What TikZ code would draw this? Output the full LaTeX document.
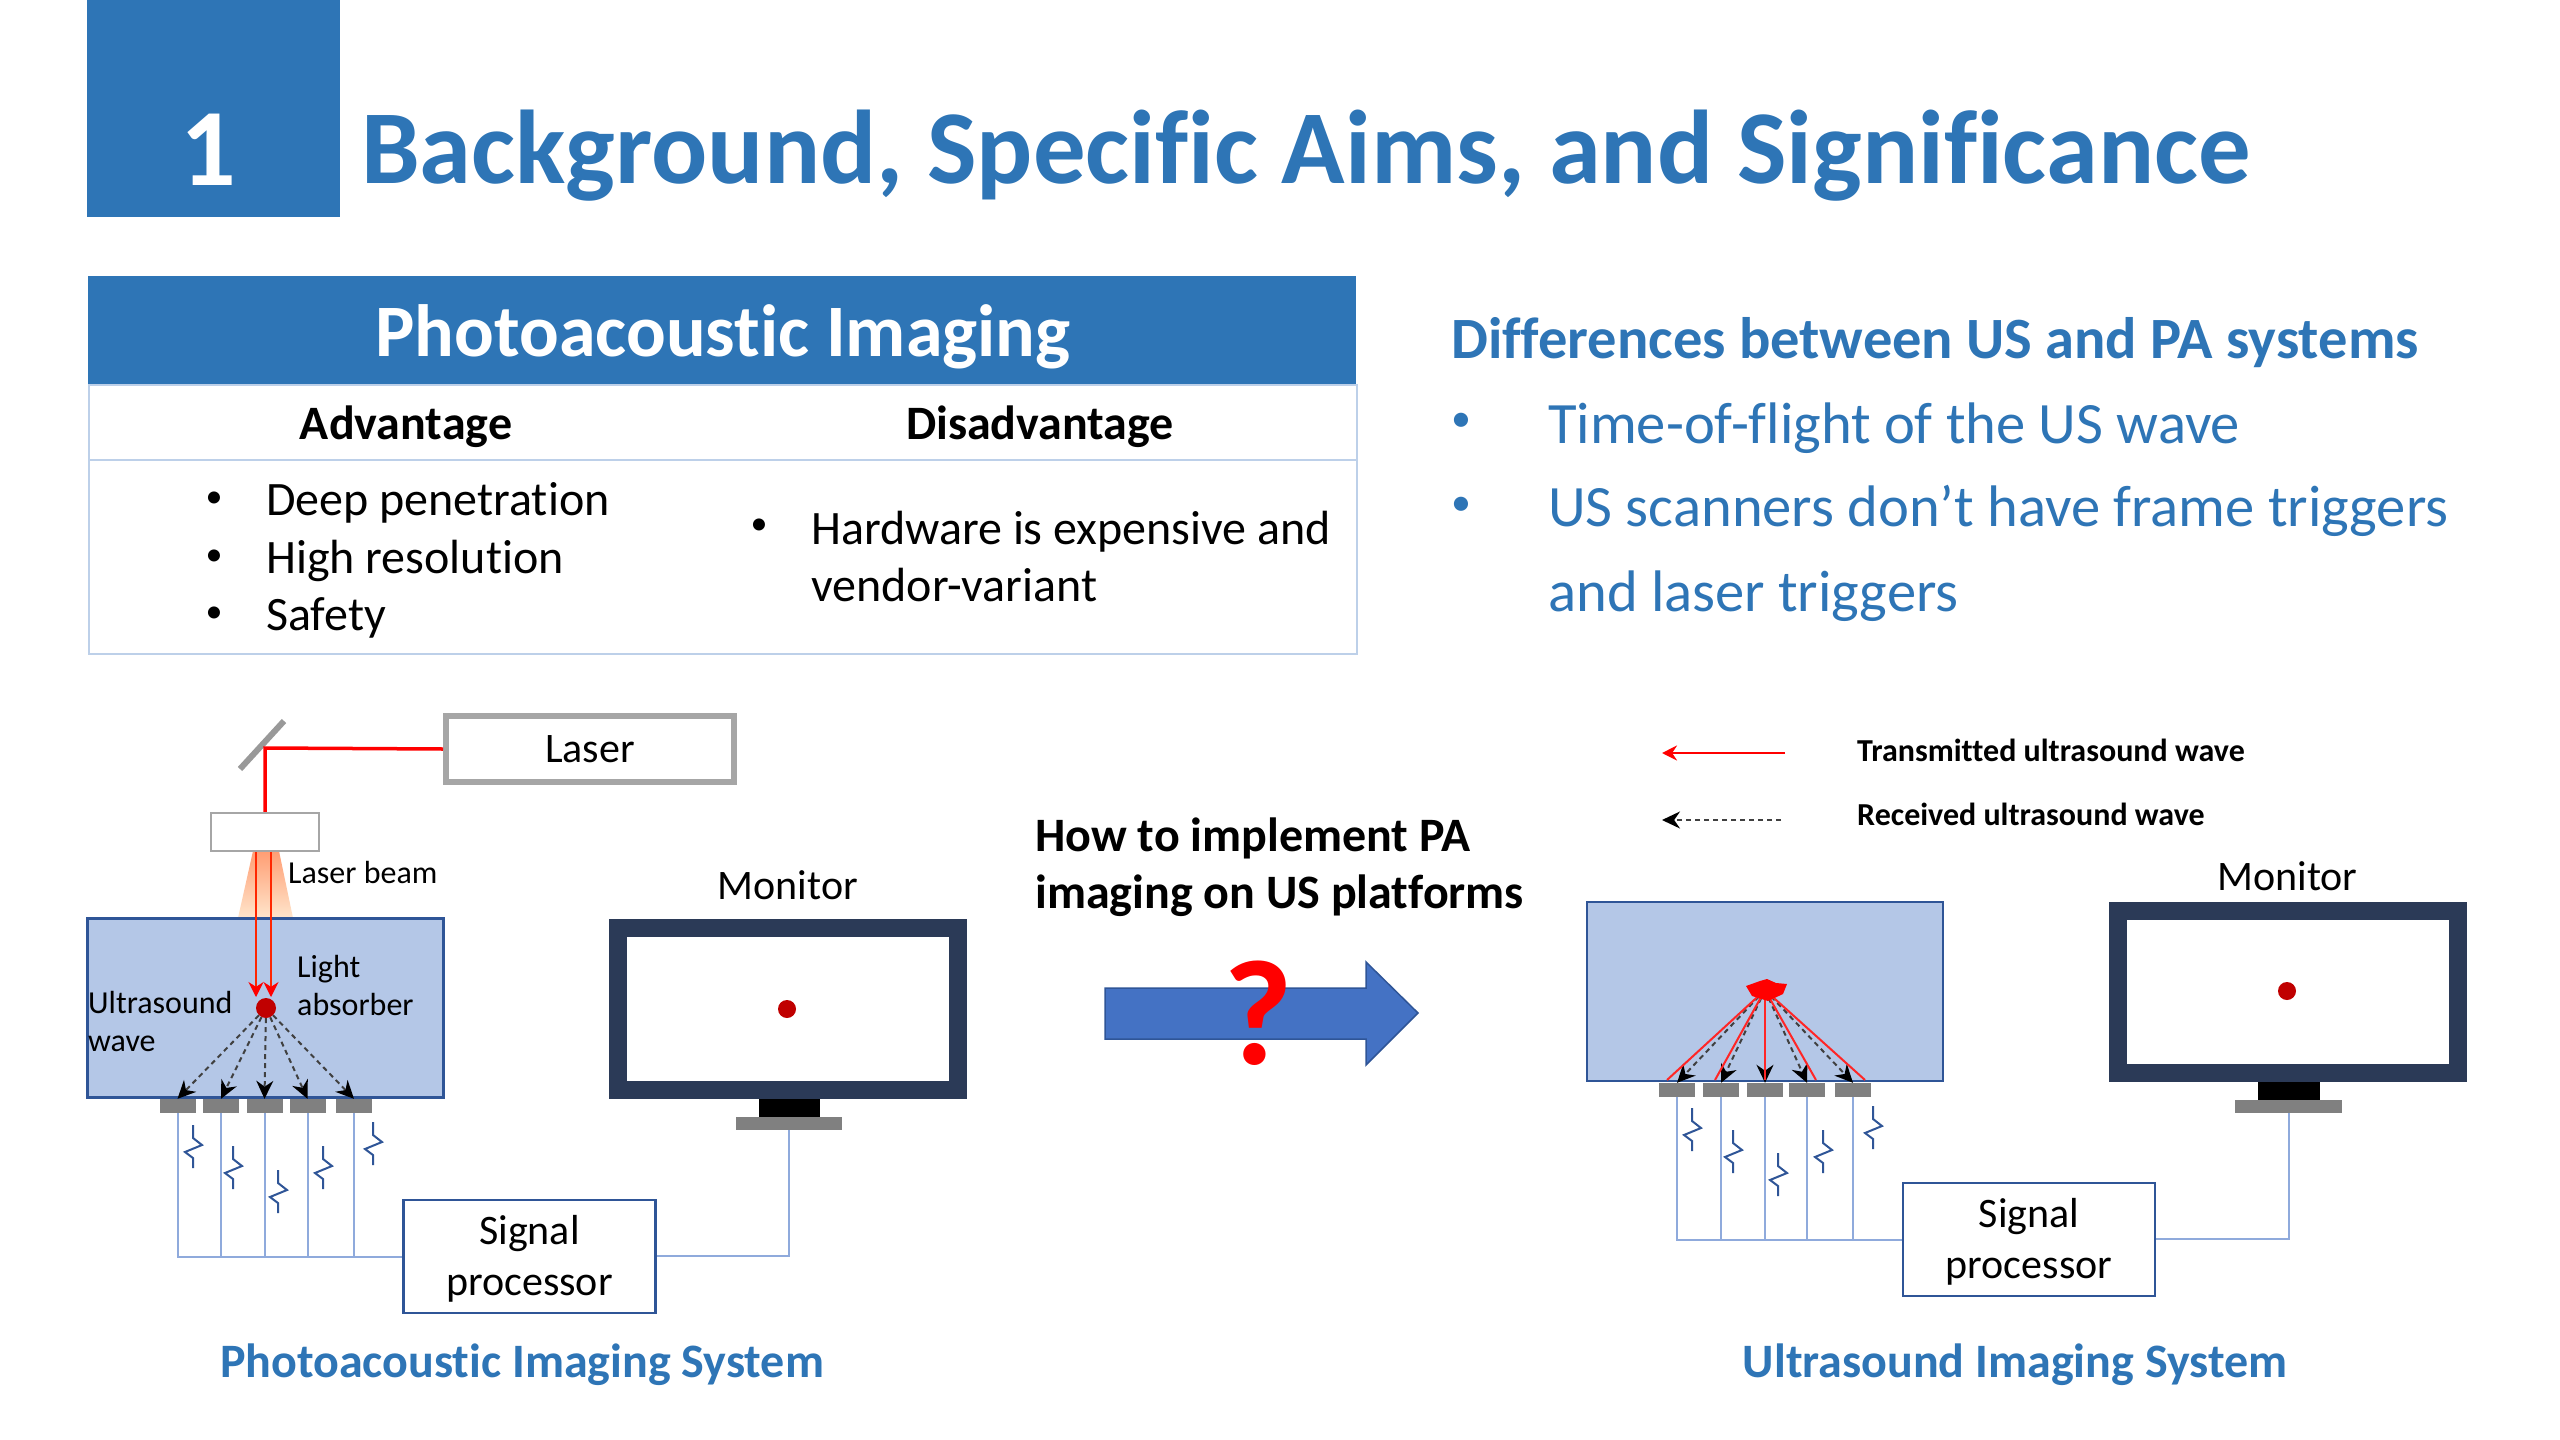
\documentclass[tikz,border=0pt]{standalone}
\usepackage{fontspec}
\setmainfont{Carlito}[Ligatures=NoCommon]
\usepackage{xcolor}
\usetikzlibrary{arrows.meta,positioning,calc}

\definecolor{headblue}{HTML}{2E75B6}
\definecolor{tissuefill}{HTML}{B4C7E7}
\definecolor{tissueline}{HTML}{2F5597}
\definecolor{wirelight}{HTML}{8FAADC}
\definecolor{gridline}{HTML}{BDD0E9}
\definecolor{screenline}{HTML}{2B3A57}
\definecolor{arrowfill}{HTML}{4472C4}
\definecolor{dotred}{HTML}{C00000}

\begin{document}
\begin{tikzpicture}[
  x=1pt, y=-1pt,
  every node/.style={inner sep=0pt, text=black},
  lbl/.style={font=\fontsize{42}{51}\selectfont, align=center},
  small/.style={font=\fontsize{32}{38}\selectfont, align=left},
  cell/.style={font=\fontsize{48}{57}\selectfont, align=left, anchor=base west},
  cell head/.style={font=\fontsize{48}{57}\selectfont\bfseries},
  bullet/.style={font=\fontsize{34}{36}\selectfont},
  blue text/.style={font=\fontsize{58.6}{85}\selectfont, text=headblue, align=left, anchor=base west},
  blue bullet/.style={font=\fontsize{40}{42}\selectfont, text=headblue},
  caption/.style={font=\fontsize{48}{56}\selectfont\bfseries, text=headblue},
  legend/.style={font=\fontsize{32}{38}\selectfont\bfseries, anchor=west},
  tissue/.style={draw=tissueline, line width=2.5pt, fill=tissuefill, minimum width=356pt, minimum height=179pt},
  element/.style={fill=black!50, minimum width=36pt, minimum height=14pt},
  screen/.style={draw=screenline, line width=18pt, fill=white, minimum width=340pt, minimum height=162pt},
  proc/.style={draw=tissueline, line width=2.5pt, fill=white, minimum width=252pt, minimum height=113pt, lbl},
  wire/.style={draw=wirelight, line width=2pt},
  wave/.style={dash pattern=on 5pt off 4pt, line width=2pt, black!75, -{Stealth[length=18pt,width=17pt,black]}},
  sent/.style={red!85!white, line width=2pt},
  pics/wiggle/.style={code={\draw[tissueline, line width=2pt] (0,0) -- (0,13) -- (9,20) -- (-8,27) -- (0,33) -- (0,43);}}
]
\path[fill=white, use as bounding box] (0,0) rectangle (2560,1440);

% Title
\node[fill=headblue, minimum width=253pt, minimum height=217pt, anchor=north west] (badge) at (87,0) {};
\node[font=\fontsize{110}{120}\selectfont\bfseries, text=white] (badgenum) at (208,150) {1};
\node[font=\fontsize{104.8}{120}\selectfont\bfseries, text=headblue, anchor=base west] (title) at (361,183) {Background, Specific Aims, and Significance};

% Table
\node[fill=headblue, minimum width=1268pt, minimum height=108pt, anchor=north west] (tablehead) at (88,276) {};
\node[font=\fontsize{74}{88}\selectfont\bfseries, text=white] (tabletitle) at (723,337) {Photoacoustic Imaging};
\node[draw=gridline, line width=2pt, minimum width=1268pt, minimum height=269pt, anchor=north west] (tablebody) at (88,384) {};
\draw[draw=gridline, line width=2pt] (tablebody.west |- 0,460) coordinate (rowl) -- (tablebody.east |- 0,460) coordinate (rowr);
\node[cell head] (advhead) at (406,427) {Advantage};
\node[cell head] (dishead) at (1040,427) {Disadvantage};
\foreach \name/\ypos/\txt in {deep/503/Deep penetration, res/561/High resolution, safe/618/Safety}{
  \node[bullet] (\name bul) at (214,\ypos-3) {•};
  \node[cell, anchor=west] (\name) at (266,\ypos) {\txt};
}
\node[bullet] (hwbul) at (759,527) {•};
\node[cell] (hw) at (811,601) {Hardware is expensive and\\vendor-variant};

% Differences
\node[font=\fontsize{58.5}{68}\selectfont\bfseries, text=headblue, anchor=base west] (diffhead) at (1451,358) {Differences between US and PA systems};
\node[blue bullet] (tofbul) at (1461,422) {•};
\node[blue text] (tof) at (1548,443) {Time-of-flight of the US wave};
\node[blue bullet] (trigbul) at (1461,506) {•};
\node[blue text] (trig) at (1548,611) {US scanners don’t have frame triggers\\and laser triggers};

% Photoacoustic system
\shade[top color=orange!60!red!55, bottom color=orange!20!white] (253,851) -- (279,851) -- (293,918) -- (238,918) -- cycle;
\node[draw=black!35, line width=6pt, fill=white, minimum width=288pt, minimum height=66pt, lbl] (laser) at (590,749) {Laser};
\node[draw=black!35, line width=2.5pt, fill=white, minimum width=108pt, minimum height=38pt] (palens) at (265,832) {};
\coordinate (pamirror) at (265,748);
\draw[black!40, line width=6pt] (240,769) -- (284,721);
\draw[red, line width=3.5pt] (laser.west) -- (pamirror) -- (palens.north);
\node[tissue] (patissue) at (265.5,1008) {};
\node[fill=dotred, circle, minimum size=20pt] (padot) at (266,1008) {};
\coordinate (pabeamA) at (256,997);
\coordinate (pabeamB) at (271,997);
\draw[sent, red!70!orange, -{Stealth[length=15pt,width=15pt,red]}] ([xshift=-9pt]palens.south) -- (pabeamA);
\draw[sent, red!70!orange, -{Stealth[length=15pt,width=15pt,red]}] ([xshift=6pt]palens.south) -- (pabeamB);
\foreach \i/\xpos in {1/177.5, 2/221, 3/264.5, 4/307.5, 5/354}{
  \node[element] (pa\i) at (\xpos,1106) {};
  \draw[wave] (padot) -- (pa\i.north);
}
\node[small, anchor=base west] (pabeamlbl) at (288,883) {Laser beam};
\node[small, anchor=base west] (paabslbl) at (297,1015) {Light\\absorber};
\node[small, anchor=base west] (pauslbl) at (88,1051) {Ultrasound\\wave};

\node[proc] (paproc) at (529.5,1256.5) {\rule{0pt}{34pt}Signal\\processor};
\foreach \i in {1,...,5}{
  \draw[wire] (pa\i.south) |- (paproc.west);
}
\foreach \xpos/\ypos in {193/1125, 233/1146, 278/1170, 323/1146, 373/1122}{
  \pic at (\xpos,\ypos) {wiggle};
}

\node[screen] (pascreen) at (788,1009) {};
\node[fill=black, minimum width=61pt, minimum height=18pt, anchor=north] (pastand) at (789.5,1099) {};
\node[fill=black!50, minimum width=106pt, minimum height=13pt, anchor=north] (pabase) at (789,1117) {};
\node[fill=dotred, circle, minimum size=18pt] (pascreendot) at (787,1009) {};
\node[lbl, above=19pt of pascreen.north] (pamonlbl) {Monitor};
\draw[wire] (paproc.east |- 0,1256) -| (pabase.south);
\node[caption] (pacaption) at (522,1365) {Photoacoustic Imaging System};

% Middle
\node[font=\fontsize{48}{57}\selectfont\bfseries, align=left, anchor=base west] (question) at (1035,908) {How to implement PA\\imaging on US platforms};
\draw[draw=tissueline, line width=1.5pt, fill=arrowfill] (1105,988) -- (1366,988) -- (1366,962) -- (1418,1013) -- (1366,1065) -- (1366,1039) -- (1105,1039) -- cycle;
\node[font=\fontsize{150}{160}\selectfont\bfseries, text=red] (qmark) at (1258,1013) {?};

% Ultrasound system
\node[tissue] (ustissue) at (1765,991.5) {};
\coordinate (usdot) at (1765,990);
\foreach \i/\xpos/\xsent in {1/1677/1667, 2/1721/1715, 3/1765/1765, 4/1807/1816, 5/1853/1865}{
  \node[element] (us\i) at (\xpos,1090) {};
  \coordinate (ussent\i) at (\xsent,1080);
  \draw[wave] (usdot) -- (us\i.north);
  \draw[sent] (usdot) -- (ussent\i);
}
\fill[red] (1746,986) -- (1760,981) -- (1767,979) -- (1776,983) -- (1787,984) -- (1783,994) -- (1768,1001) -- (1752,996) -- cycle;

\node[proc] (usproc) at (2029,1239.5) {\rule{0pt}{34pt}Signal\\processor};
\foreach \i in {1,...,5}{
  \draw[wire] (us\i.south) |- (usproc.west);
}
\foreach \xpos/\ypos in {1692/1108, 1733/1130, 1778/1153, 1823/1130, 1873/1106}{
  \pic at (\xpos,\ypos) {wiggle};
}

\node[screen] (usscreen) at (2287.5,991.5) {};
\node[fill=black, minimum width=62pt, minimum height=18pt, anchor=north] (usstand) at (2289,1082) {};
\node[fill=black!50, minimum width=107pt, minimum height=13pt, anchor=north] (usbase) at (2288.5,1100) {};
\node[fill=dotred, circle, minimum size=18pt] (usscreendot) at (2287,991) {};
\node[lbl, above=11pt of usscreen.north] (usmonlbl) {Monitor};
\draw[wire] (usproc.east |- 0,1239) -| (usbase.south);
\node[caption] (uscaption) at (2015,1365) {Ultrasound Imaging System};

% Legend
\coordinate (legAr) at (1785,753);
\coordinate (legBr) at (1781,820);
\node[legend] (legA) at (1857,750) {Transmitted ultrasound wave};
\node[legend] (legB) at (1857,814) {Received ultrasound wave};
\coordinate (legAl) at (1662,753);
\coordinate (legBl) at (1662,820);
\draw[sent, red, -{Stealth[length=15pt,width=15pt,red]}] (legAr) -- (legAl);
\draw[wave] (legBr) -- (legBl);
\end{tikzpicture}
\end{document}
